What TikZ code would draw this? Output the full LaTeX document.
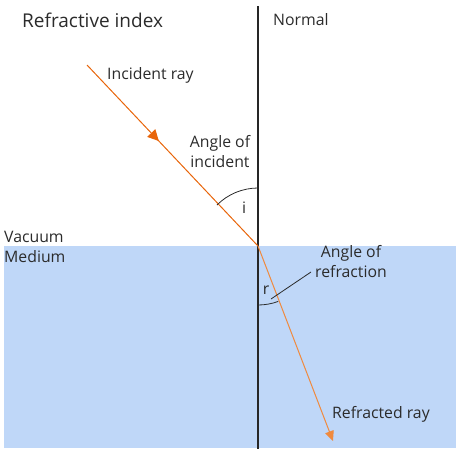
\documentclass[tikz,border=0pt]{standalone}
\usepackage{fontspec}
\setmainfont{Open Sans}
\usetikzlibrary{calc}
\usetikzlibrary{decorations.markings}
\usetikzlibrary{arrows.meta}
\definecolor{medium}{HTML}{BFD7F8}
\definecolor{inray}{HTML}{E8650A}
\definecolor{outray}{HTML}{F08A3E}
\definecolor{txt}{HTML}{2B2B2B}

\begin{document}
\begin{tikzpicture}[x=1pt, y=-1pt, font=\fontsize{15.8}{20}\selectfont, text=txt,
  lbl/.style={inner sep=0pt, anchor=west},
  midarrow/.style={postaction={decorate}, decoration={markings,
    mark=at position 0.42 with {\arrow{Triangle[length=11pt, width=11pt]}}}}]

\useasboundingbox (0,0) rectangle (462,453);

% medium
\fill[medium] (4,246) rectangle (456,448);

% points
\coordinate (O) at (258,246);
\coordinate (S) at (87,65);
\coordinate (E) at (333,441);
\coordinate (Ntop) at (258,6);
\coordinate (Nbot) at (258,449);

% normal
\draw[line width=1.2pt, black!85] (Ntop) -- (Nbot);

% rays
\draw[inray, line width=1pt, midarrow] (S) -- (O);
\draw[outray, line width=1pt, -{Triangle[length=10pt, width=9pt]}] (O) -- (E);

% angles
\draw[txt, line width=0.8pt] ($(O)+(-90:58)$) arc[start angle=-90, end angle=-135, radius=58];
\draw[txt, line width=0.8pt] ($(O)+(90:59)$) arc[start angle=90, end angle=70, radius=59];
\node (i) at (244,208) {i};
\node (r) at (266,290) {r};
\coordinate (Lr) at (271,299);
\coordinate (Le) at (311,272);
\node[align=center, inner sep=1pt] (refr) at (351,262) {Angle of\\refraction};
\draw[txt, line width=0.8pt] (Lr) -- (Le);

% labels
\node[lbl, font=\fontsize{19}{22}\selectfont] (title) at (22,20) {Refractive index};
\node[lbl] (normal) at (273,20) {Normal};
\node[lbl] (inc) at (107,75) {Incident ray};
\node[align=center, inner sep=0pt] (ainc) at (220,152) {Angle of\\incident};
\node[lbl] (vac) at (4,237) {Vacuum};
\node[lbl] (med) at (4,257) {Medium};
\node[lbl] (refd) at (332,414) {Refracted ray};

\end{tikzpicture}
\end{document}
